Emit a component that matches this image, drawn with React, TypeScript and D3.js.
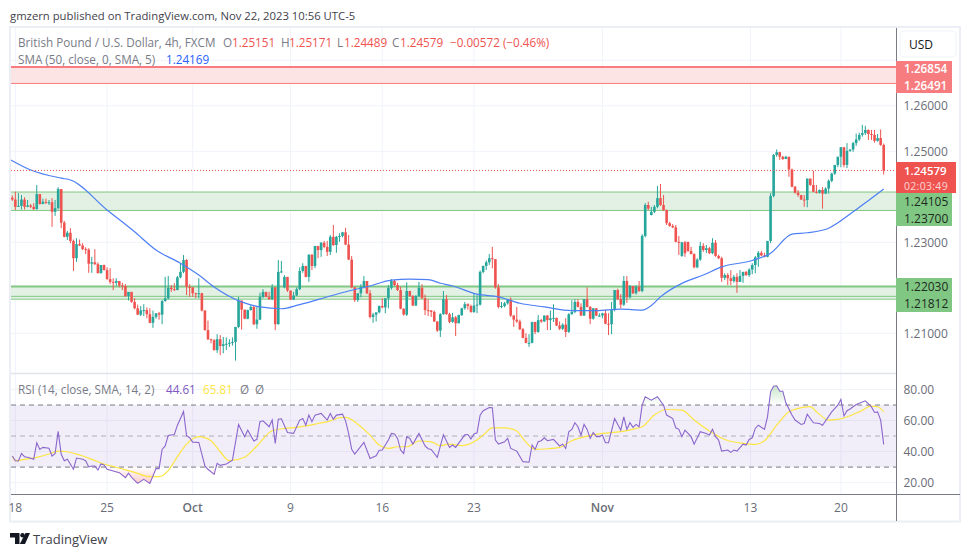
import React from "react";
import * as d3 from "d3";

// Prices are stored in pips above 1.20000
const PRICE_BASE = 1.2;
const closes = [
  394,378,380,394,378,381,378,373,406,384,
  389,388,388,367,375,417,343,312,321,303,
  265,296,293,285,284,253,256,252,232,250,
  239,219,213,211,215,205,204,182,191,169,
  155,141,150,151,142,123,136,144,141,171,
  177,200,197,195,223,235,261,202,201,188,
  187,188,150,107,87,85,63,87,72,76,
  77,79,81,114,172,152,132,151,158,120,
  130,180,191,180,175,201,120,235,236,224,
  194,174,183,197,237,248,224,273,248,292,
  283,299,290,279,312,294,312,314,322,295,
  262,201,173,188,202,215,188,136,141,146,
  160,157,177,200,215,206,195,154,141,193,
  182,161,182,200,177,151,150,147,126,106,
  142,175,142,125,135,122,140,155,164,160,
  147,161,163,235,248,256,265,263,201,158,
  160,166,174,139,130,126,109,90,79,79,
  125,103,129,126,139,129,133,134,117,110,
  119,103,142,147,169,158,139,175,158,132,
  155,139,139,144,121,120,151,195,175,163,
  215,179,204,188,202,193,314,382,374,367,
  378,397,382,371,342,336,333,301,300,300,
  276,281,274,245,262,292,283,287,276,299,
  270,265,222,228,221,215,224,213,226,235,
  228,240,250,267,277,271,268,303,402,492,
  498,488,483,488,460,422,409,404,394,393,
  440,426,411,409,415,407,418,435,451,470,
  488,509,470,501,504,518,526,536,540,547,
  538,536,523,529,514,458,
];
const highs = [
  403,411,408,404,399,393,384,386,426,406,
  396,396,393,397,393,421,417,347,325,331,
  306,309,306,298,289,287,268,285,256,250,
  251,245,243,221,221,213,211,208,191,191,
  177,163,160,164,157,155,150,144,147,173,
  224,226,206,210,226,254,272,263,208,201,
  189,221,189,151,128,88,87,98,96,92,
  91,87,91,114,180,172,152,152,162,162,
  160,189,197,191,191,208,201,261,259,228,
  224,194,191,201,245,254,248,273,273,292,
  292,301,303,303,316,338,314,320,323,332,
  316,270,202,188,208,226,215,195,145,146,
  161,177,177,206,219,217,211,202,155,212,
  193,184,184,213,208,185,175,151,150,126,
  144,193,184,145,145,138,141,156,169,166,
  163,188,184,238,249,260,274,290,263,208,
  169,169,175,179,140,158,130,112,100,98,
  125,125,140,132,139,140,150,164,133,126,
  122,133,144,173,175,175,166,175,201,160,
  155,155,144,145,152,144,169,195,198,186,
  226,226,206,204,206,215,318,386,389,378,
  382,424,428,404,372,345,340,338,314,301,
  303,301,290,276,265,301,298,294,290,309,
  305,273,268,232,232,239,228,232,239,235,
  237,243,254,270,281,281,277,303,408,494,
  504,499,490,490,488,462,424,415,404,404,
  440,440,457,426,416,421,421,438,453,470,
  488,509,509,518,504,521,539,541,558,556,
  548,547,547,538,548,517,
];
const lows = [
  391,371,378,372,372,377,375,371,372,383,
  384,384,382,334,358,372,331,311,305,298,
  237,257,292,283,274,233,233,250,232,232,
  238,218,208,195,204,201,195,180,172,167,
  153,140,138,138,133,122,112,132,130,120,
  169,174,191,193,199,221,232,184,180,180,
  177,177,148,106,85,78,62,57,52,56,
  63,70,73,40,111,108,131,131,150,118,
  110,129,177,179,174,173,107,119,232,199,
  191,173,173,182,195,233,223,213,239,243,
  265,268,287,270,272,292,277,301,311,294,
  261,199,169,169,179,199,186,133,123,126,
  144,155,144,155,196,204,193,153,139,138,
  180,160,160,179,176,140,138,136,125,103,
  92,141,141,122,123,94,122,138,152,152,
  145,145,144,161,232,239,250,243,198,155,
  155,157,163,136,114,123,107,89,78,70,
  78,98,101,123,125,107,107,125,116,107,
  107,92,101,141,144,157,138,138,157,120,
  130,138,136,133,120,96,98,148,173,155,
  160,167,177,186,185,191,190,311,371,359,
  364,375,380,369,338,334,331,300,272,268,
  268,279,274,243,243,259,279,276,274,274,
  268,263,213,217,206,206,211,189,213,211,
  226,224,230,232,246,270,267,267,298,399,
  488,481,481,483,444,421,407,400,393,378,
  377,424,410,407,407,374,406,407,432,448,
  465,465,465,463,499,499,512,523,532,536,
  525,525,519,521,512,449,
];
const firstOpen = 398;
const gapOpens: Record<number, number> = { 89: 201, 209: 360, 219: 270, 221: 301 };

const smaBars = [-0.5,6,16,19,31,40,47,55,61,66,75,81,88,94,104,110,117,124,130,136,140,144,152,159,166,174,183,191,199,206,209,212,220,226,232,242,248,255,260,267,275,281,285];
const smaValues = [481,459,441,437,371,323,283,254,228,202,169,158,154,163,182,193,204,217,219,218,210,204,186,180,166,158,150,150,153,151,161,180,213,228,246,260,276,318,321,331,367,397,417];

const rsiBars = [0,1,2,3,4,5,7,8,9,10,12,13,14,15,16,17,18,20,21,23,24,25,26,27,28,29,30,31,33,35,37,38,39,41,43,45,47,48,49,50,51,53,54,55,56,57,58,59,61,63,64,66,67,68,70,72,74,76,77,79,80,81,82,84,85,86,87,88,90,92,94,95,96,97,98,99,101,103,104,
  105,106,108,109,110,111,112,115,117,119,120,121,123,124,125,126,127,128,129,130,131,133,135,136,137,139,141,143,144,145,148,149,150,151,152,153,154,156,157,158,159,161,162,163,165,167,169,170,171,172,173,174,175,177,179,180,181,182,183,184,185,186,187,188,189,190,191,192,193,194,195,197,199,200,201,202,203,204,205,206,
  207,209,211,213,214,216,217,218,219,220,222,223,225,227,228,229,230,231,232,234,235,236,237,239,240,241,242,243,244,246,247,248,249,250,251,252,253,255,256,258,259,260,262,264,265,268,270,271,272,273,274,276,279,281,282,283,284,285];
const rsiValues = [37.1,34.1,33.9,38.8,36.7,36.3,35,45.7,41.4,42.7,42.1,37.1,38.8,53,38.2,34.1,35,28.6,35.8,35,34.1,30.1,30.7,30.7,28.1,32,31.4,28.6,27.5,26.4,23.2,26,23.4,19.5,22.1,19.5,29,29,41.4,43.6,50.4,51,57,61.3,65.8,50.2,48.9,46.1,45.9,30.7,28.6,25.3,32.4,31.1,32,34.5,57.5,49.6,53.8,46.8,47.9,59.2,59.8,56,60.3,45.3,60.9,61.1,52.3,51.7,60.3,61.3,57,63.5,59.2,63.5,64.6,60.3,64.6,
  60.9,63.5,64.1,59.8,51.7,41.4,38.4,45.9,35.6,37.3,40.8,41,47.4,51.7,51.3,48.5,41,38.8,49.6,48.5,44.8,51.7,43.6,41.8,41.4,36.3,50.8,42.7,44.2,42.7,50.8,51,48.1,51.3,52.1,63.5,66.3,68.4,68.2,47.4,44.8,46.3,48.5,42,40.3,33.5,33.1,44.2,41.4,46.3,47,48.9,47,47.8,43.6,44.8,42,52.8,54.3,58.6,56,50.6,57.5,54.3,48.5,52.3,49.6,49.6,50.6,45.7,45.7,61.3,53.8,62.4,54.3,58.6,55.6,57.5,56,69.9,
  75.3,73.1,75.3,69.9,63.5,61.3,55.3,54.3,49.6,53.8,49.6,44.8,52.8,51.7,50.6,54.3,49.6,47.4,40.3,41,39.5,41,40.3,44.8,44.2,47.8,48.9,54.9,57,54.3,62.4,78.5,82.1,82.4,78.9,78.9,71.4,63.5,60.3,57.5,58.1,64.1,58.6,58.1,57,65.6,69.9,73.6,62.9,66.3,67.4,70.3,72.7,68.8,65.2,65.6,60.3,44.61];

const rsiMaBars = [0,1,4,8,12,15,18,22,26,30,34,40,45,48,51,54,57,61,65,68,71,76,80,85,89,93,100,104,107,109,114,117,120,123,126,129,133,137,140,143,147,151,154,157,161,165,167,171,175,179,183,188,193,199,204,206,210,214,219,223,228,233,239,243,246,250,254,257,261,263,267,270,274,277,281,283,285];
const rsiMaValues = [37.1,34.1,35,36.3,38.4,40.3,39.9,37.8,35,32,29.9,26.6,23.8,23.8,27.7,36.7,44.8,49.6,47,39.9,34.1,36.3,43.6,53.4,54.9,55.6,58.1,59.8,61.8,62,56,50.6,44.2,42,43.1,43.1,46.8,46.3,43.8,44.8,43.8,46.3,50.6,55.3,55.3,53.2,48.5,41.4,41.8,42.7,47,50,51.7,52.8,54.9,56,63.5,67.1,66.7,60.3,53.2,47.8,45.3,44.6,47,57,65.6,67.8,68.9,65.6,60.3,60.7,63.1,65.6,69.3,68.9,65.81];

const priceTicks = [1.26, 1.25, 1.23, 1.21];
const gridPrices = [1.27, 1.26, 1.25, 1.24, 1.23, 1.22, 1.21];
const rsiTicks = [80, 60, 40, 20];
const timeLabels = ["18", "25", "Oct", "9", "16", "23", "Nov", "13", "20"];
const timeBars = [1, 31, 59, 91, 121, 151, 193, 241.4, 271];
const lastClose = 1.24579;

const FONT = "'Open Sans', 'Noto Sans', sans-serif";
const UP = "#26a69a";
const DOWN = "#ef5350";
const GRID = "#f0f3fa";
const GREY = "#787b86";
const AXIS_TEXT = "#6a6d78";

const PANE_LEFT = 11;
const AXIS_X = 896.5;
const PANE_RIGHT = 960;

const x = d3.scaleLinear().domain([0, closes.length - 1]).range([12.3, 883.7]);
const y = d3.scaleLinear().domain([1.25, 1.21]).range([151.3, 333.3]);
const yr = d3.scaleLinear().domain([80, 20]).range([389.5, 482.6]);
const pip = (v: number) => PRICE_BASE + v / 10000;

const candles = closes.map((c, i) => {
  const o = gapOpens[i] ?? (i === 0 ? firstOpen : closes[i - 1]);
  return { i, o, c, h: Math.max(highs[i], o, c), l: Math.min(lows[i], o, c) };
});

const smaPath = d3.line<number>()
  .x((_, i) => x(smaBars[i]))
  .y((v) => y(pip(v)))
  .curve(d3.curveMonotoneX)(smaValues) as string;

const rsiPath = d3.line<number>()
  .x((_, i) => x(rsiBars[i]))
  .y((v) => yr(v))(rsiValues) as string;

const rsiMaPath = d3.line<number>()
  .x((_, i) => x(rsiMaBars[i]))
  .y((v) => yr(v))
  .curve(d3.curveMonotoneX)(rsiMaValues) as string;

const areaTo = (level: number) =>
  d3.area<number>()
    .x((_, i) => x(rsiBars[i]))
    .y0(yr(level))
    .y1((v) => yr(v))(rsiValues) as string;

const T = (p: any) => <text fontFamily={FONT} fontSize={12} dominantBaseline="central" {...p} />;

function Zone({ top, bottom, line, fill, topW = 1 }: any) {
  return (
    <g>
      <rect x={PANE_LEFT - 1} width={AXIS_X - PANE_LEFT + 1} y={y(top)} height={y(bottom) - y(top)} fill={fill} />
      <line x1={PANE_LEFT - 1} x2={AXIS_X} y1={y(top)} y2={y(top)} stroke={line} strokeWidth={topW} />
      <line x1={PANE_LEFT - 1} x2={AXIS_X} y1={y(bottom)} y2={y(bottom)} stroke={line} strokeWidth={1} />
    </g>
  );
}

export default function App() {
  return (
    <svg width={970} height={557} style={{ position: "absolute", left: 0, top: 0, background: "#fff" }}>
      <defs>
        <linearGradient id="ob" gradientUnits="userSpaceOnUse" x1={0} x2={0} y1={yr(83)} y2={yr(70)}>
          <stop offset="0" stopColor="#4caf50" stopOpacity={0.32} />
          <stop offset="1" stopColor="#4caf50" stopOpacity={0} />
        </linearGradient>
        <linearGradient id="os" gradientUnits="userSpaceOnUse" x1={0} x2={0} y1={yr(30)} y2={yr(19)}>
          <stop offset="0" stopColor="#ef5350" stopOpacity={0} />
          <stop offset="1" stopColor="#ef5350" stopOpacity={0.32} />
        </linearGradient>
        <clipPath id="above70"><rect x={PANE_LEFT} y={374} width={AXIS_X - PANE_LEFT} height={yr(70) - 374} /></clipPath>
        <clipPath id="below30"><rect x={PANE_LEFT} y={yr(30)} width={AXIS_X - PANE_LEFT} height={494 - yr(30)} /></clipPath>
        <clipPath id="pane"><rect x={PANE_LEFT - 1} y={28} width={AXIS_X - PANE_LEFT + 1} height={345} /></clipPath>
      </defs>

      <T x={10} y={15} fill="#3f424c" fontSize={11.3}>gmzern published on TradingView.com, Nov 22, 2023 10:56 UTC-5</T>

      {/* grid */}
      {gridPrices.map((p) => (
        <line key={p} x1={PANE_LEFT} x2={AXIS_X} y1={y(p)} y2={y(p)} stroke={GRID} />
      ))}
      {rsiTicks.map((v) => (
        <line key={v} x1={PANE_LEFT} x2={AXIS_X} y1={yr(v)} y2={yr(v)} stroke={GRID} />
      ))}
      {timeBars.map((b) => (
        <line key={b} x1={x(b)} x2={x(b)} y1={28} y2={494} stroke={GRID} />
      ))}

      {/* zones */}
      <Zone top={1.26854} bottom={1.26491} line="#f77c80" fill="#fce3e4" topW={2} />
      <Zone top={1.24105} bottom={1.237} line="#81c784" fill="#e2f1e3" />
      <Zone top={1.2203} bottom={1.2175} line="#81c784" fill="#e2f1e3" topW={2} />
      <line x1={PANE_LEFT - 1} x2={AXIS_X} y1={y(1.21812)} y2={y(1.21812)} stroke="#81c784" />

      {/* candles */}
      <g>
        {candles.map((d) => {
          const col = d.c >= d.o ? UP : DOWN;
          const top = y(pip(Math.max(d.o, d.c)));
          const bot = y(pip(Math.min(d.o, d.c)));
          return (
            <g key={d.i}>
              <line x1={x(d.i)} x2={x(d.i)} y1={y(pip(d.h))} y2={y(pip(d.l))} stroke={col} strokeWidth={1} />
              <rect x={x(d.i) - 1.3} width={2.6} y={top} height={Math.max(bot - top, 1)} fill={col} />
            </g>
          );
        })}
      </g>

      <path d={smaPath} fill="none" stroke="#4d7ff5" strokeWidth={1.2} clipPath="url(#pane)" />
      <line x1={PANE_LEFT} x2={AXIS_X} y1={y(lastClose)} y2={y(lastClose)} stroke={DOWN} strokeWidth={1} strokeDasharray="1 2" />

      {/* RSI */}
      <rect x={PANE_LEFT} width={AXIS_X - PANE_LEFT} y={yr(70)} height={yr(30) - yr(70)} fill="#7e57c2" fillOpacity={0.1} />
      <path d={areaTo(70)} fill="url(#ob)" clipPath="url(#above70)" />
      <path d={areaTo(30)} fill="url(#os)" clipPath="url(#below30)" />
      <line x1={PANE_LEFT} x2={AXIS_X} y1={yr(70)} y2={yr(70)} stroke={GREY} strokeDasharray="5 4" />
      <line x1={PANE_LEFT} x2={AXIS_X} y1={yr(50)} y2={yr(50)} stroke={GREY} strokeOpacity={0.55} strokeDasharray="5 4" />
      <line x1={PANE_LEFT} x2={AXIS_X} y1={yr(30)} y2={yr(30)} stroke={GREY} strokeDasharray="5 4" />
      <path d={rsiMaPath} fill="none" stroke="#fde541" strokeWidth={1.2} />
      <path d={rsiPath} fill="none" stroke="#8a66cc" strokeWidth={1.1} />

      {/* frame */}
      <rect x={10} y={27} width={950} height={494.5} fill="none" stroke="#eceef5" strokeWidth={2} />
      <line x1={PANE_LEFT} x2={AXIS_X} y1={373.5} y2={373.5} stroke="#e0e3eb" strokeWidth={1.5} />
      <line x1={PANE_LEFT} x2={PANE_RIGHT} y1={494.5} y2={494.5} stroke={GREY} />
      <line x1={AXIS_X} x2={AXIS_X} y1={28} y2={521} stroke={GREY} />

      {/* axes */}
      {priceTicks.map((p) => (
        <T key={p} x={903.5} y={y(p)} fill={AXIS_TEXT}>{p.toFixed(5)}</T>
      ))}
      {rsiTicks.map((v) => (
        <T key={v} x={903.5} y={yr(v)} fill={AXIS_TEXT}>{v.toFixed(2)}</T>
      ))}
      {timeLabels.map((l, i) => (
        <T key={l} x={x(timeBars[i])} y={507.5} textAnchor="middle" fill={AXIS_TEXT} fontWeight={l === "Oct" || l === "Nov" ? 600 : 400}>{l}</T>
      ))}

      {/* USD */}
      <rect x={900} y={31} width={56} height={26} rx={4} fill="#fff" stroke={GRID} strokeWidth={1.2} />
      <T x={909} y={44.5} fill="#131722">USD</T>

      {/* price tags */}
      <rect x={896} y={61} width={56} height={32} fill="#f77c80" />
      <T x={904} y={68} fill="#fff" fontWeight={600} fontSize={11.7}>1.26854</T>
      <T x={904} y={85} fill="#fff" fontWeight={600} fontSize={11.7}>1.26491</T>
      <rect x={896} y={193} width={56} height={33} fill="#81c784" />
      <T x={904} y={201.5} fill="#1d2a1e">1.24105</T>
      <T x={904} y={218} fill="#1d2a1e">1.23700</T>
      <rect x={896} y={278} width={56} height={34} fill="#81c784" />
      <T x={904} y={286.5} fill="#1d2a1e">1.22030</T>
      <T x={904} y={303.5} fill="#1d2a1e">1.21812</T>
      <rect x={896} y={162} width={60} height={31} fill={DOWN} />
      <T x={904} y={170} fill="#fff" fontWeight={600} fontSize={11.5}>1.24579</T>
      <T x={904} y={185.5} fill="#fff" fillOpacity={0.75} fontSize={10.5} letterSpacing={0.3}>02:03:49</T>

      {/* legends */}
      <T x={18} y={42} fill={GREY} fontSize={11.7}>British Pound / U.S. Dollar, 4h, FXCM</T>
      <T x={223} y={42} fill={GREY} fontSize={11.7}>O</T>
      <T x={232} y={42} fill={DOWN} fontSize={11.7}>1.25151</T>
      <T x={281} y={42} fill={GREY} fontSize={11.7}>H</T>
      <T x={289} y={42} fill={DOWN} fontSize={11.7}>1.25171</T>
      <T x={337} y={42} fill={GREY} fontSize={11.7}>L</T>
      <T x={344} y={42} fill={DOWN} fontSize={11.7}>1.24489</T>
      <T x={392} y={42} fill={GREY} fontSize={11.7}>C</T>
      <T x={400} y={42} fill={DOWN} fontSize={11.7}>1.24579</T>
      <T x={450} y={42} fill={DOWN} fontSize={11.7}>−0.00572 (−0.46%)</T>
      <T x={18} y={59} fill={GREY} fontSize={11.7}>SMA (50, close, 0, SMA, 5)</T>
      <T x={166} y={59} fill="#2962ff" fontSize={11.7}>1.24169</T>
      <T x={18} y={389} fill={GREY} fontSize={11.7}>RSI (14, close, SMA, 14, 2)</T>
      <T x={166} y={389} fill="#7e57c2" fontSize={11.7}>44.61</T>
      <T x={203} y={389} fill="#fde541" fontSize={11.7}>65.81</T>
      <T x={240} y={389} fill={GREY} fontSize={11.7}>Ø</T>
      <T x={255} y={389} fill={GREY} fontSize={11.7}>Ø</T>

      {/* footer */}
      <g transform="translate(10,533)" fill="#131722">
        <path d="M0 0H9.5V11H5V4.5H0Z" />
        <circle cx={12.5} cy={2.2} r={2.2} />
        <path d="M15.5 0H20L15 11H9.8Z" />
      </g>
      <T x={33} y={539} fill="#3f424c" fontSize={13}>TradingView</T>
    </svg>
  );
}
